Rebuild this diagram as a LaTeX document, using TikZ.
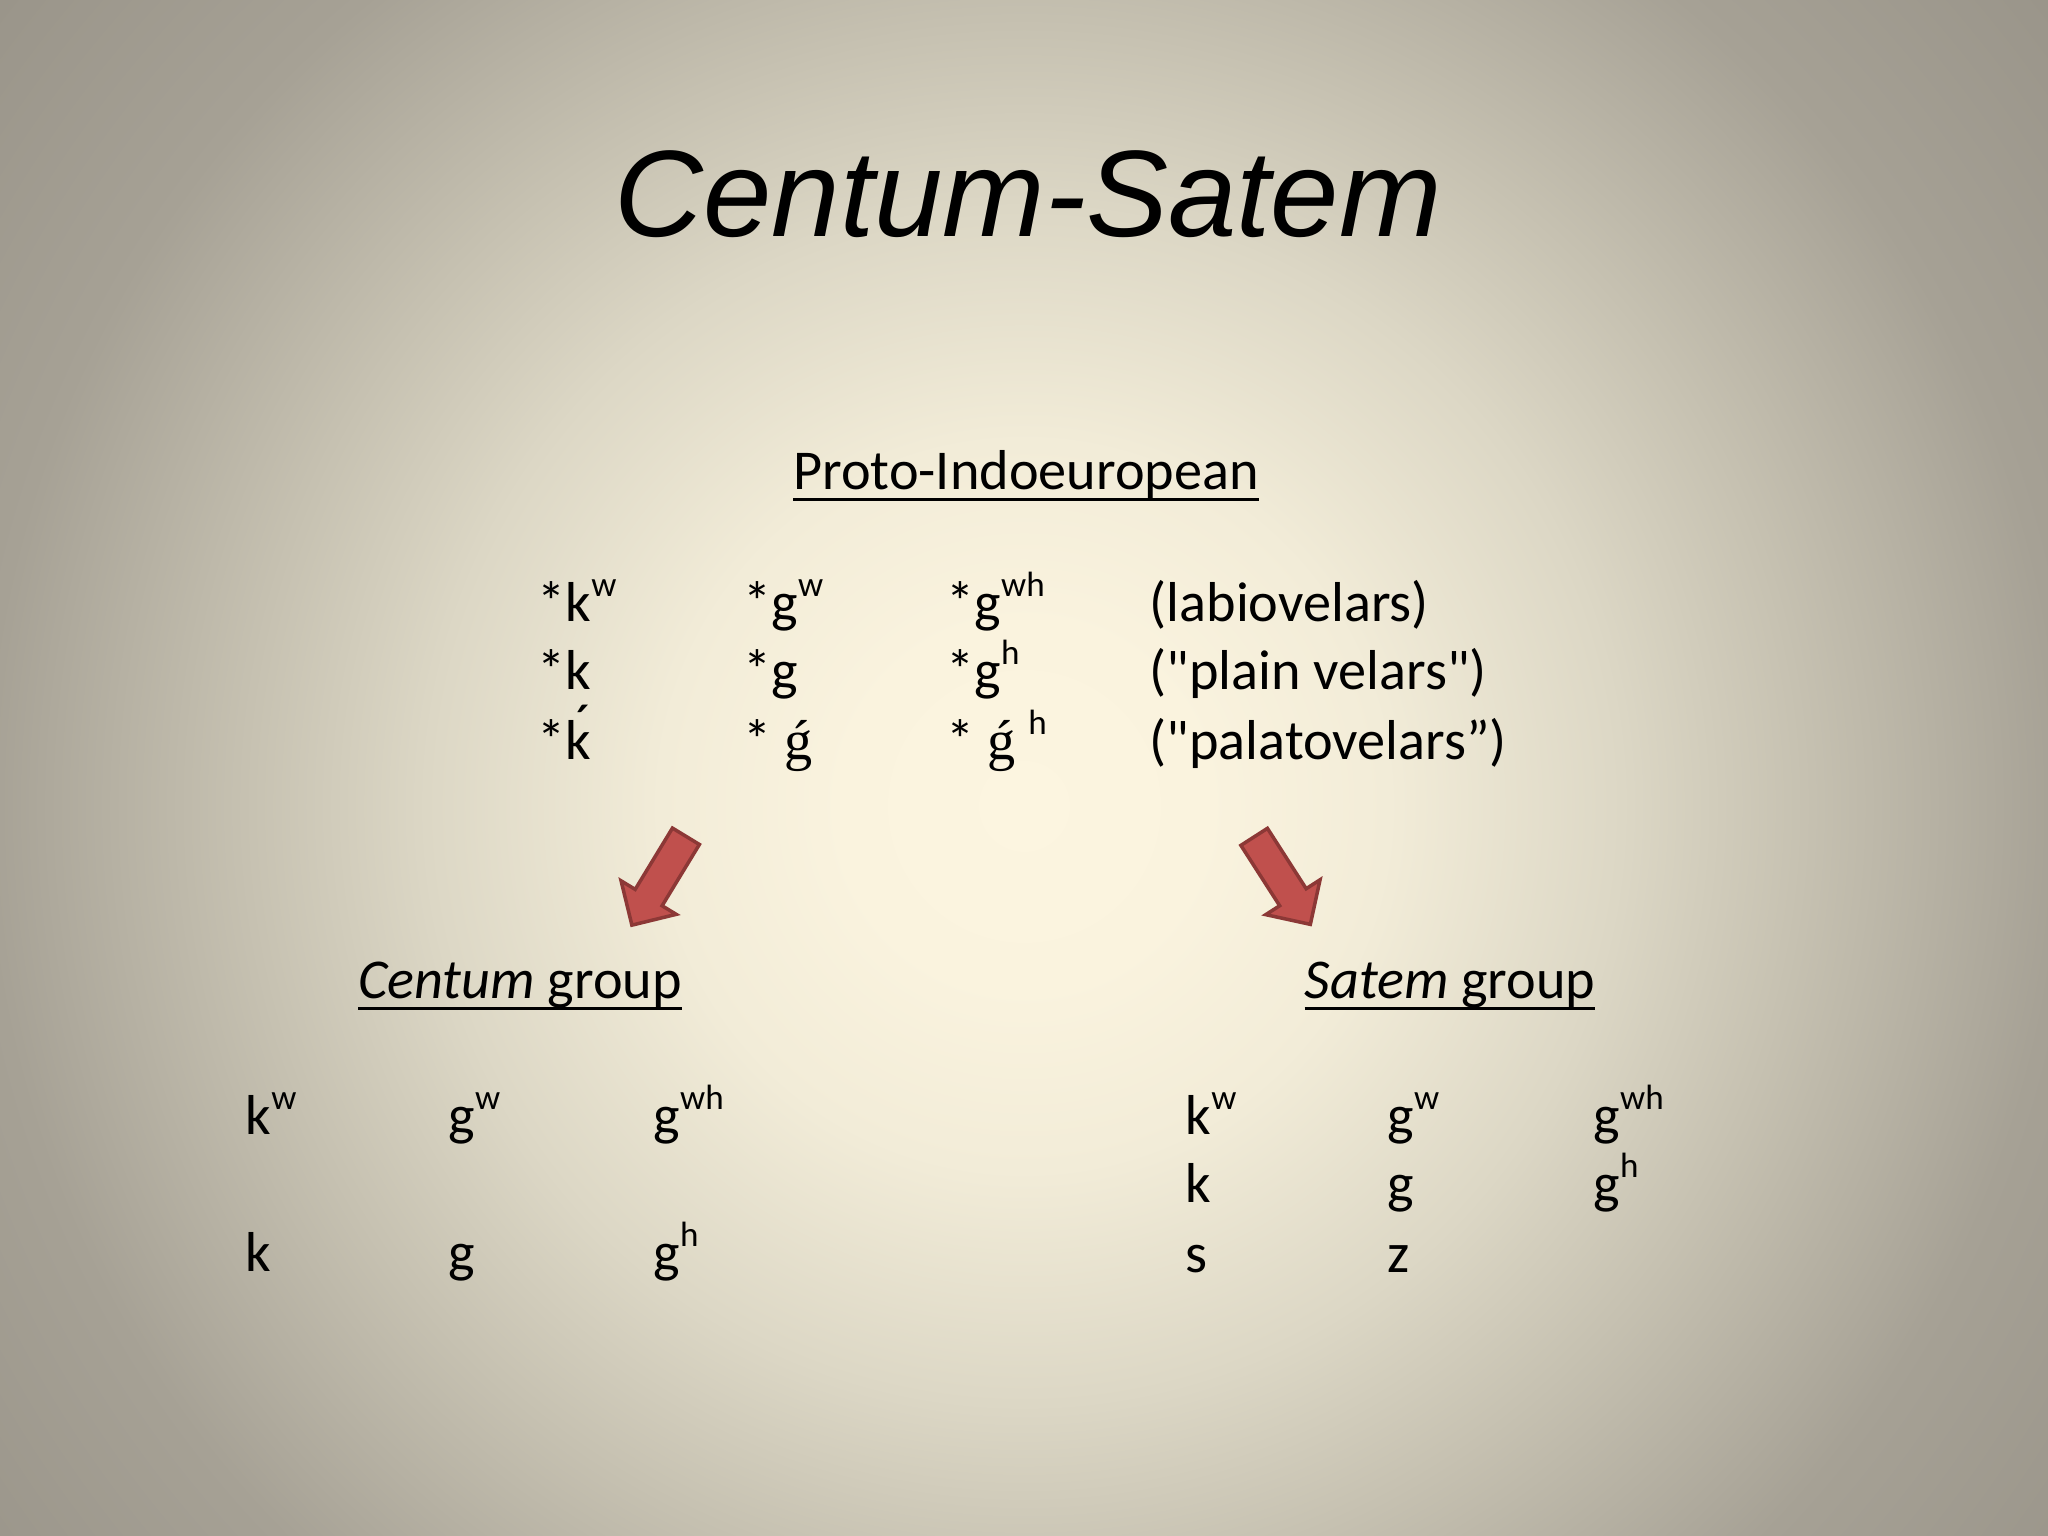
\documentclass[tikz,border=0pt]{standalone}
\usepackage{fontspec}
\setmainfont{Carlito}
\newfontfamily\titlefont{Liberation Sans}
\newfontfamily\seriffont{Liberation Serif}
\usetikzlibrary{shapes.arrows}

\definecolor{bgA}{HTML}{FCF5E0}
\definecolor{bgB}{HTML}{FAF3DE}
\definecolor{bgC}{HTML}{F2ECD8}
\definecolor{bgD}{HTML}{DCD7C5}
\definecolor{bgE}{HTML}{C6C1B1}
\definecolor{bgF}{HTML}{A6A195}
\definecolor{bgG}{HTML}{9A958A}
\definecolor{arrowfill}{HTML}{C0504D}
\definecolor{arrowline}{HTML}{8C3836}

\pgfdeclareradialshading{slidebg}{\pgfpoint{0bp}{0bp}}{%
  color(0bp)=(bgA); color(3.5bp)=(bgB); color(7bp)=(bgC); color(11.5bp)=(bgD);
  color(15bp)=(bgE); color(20bp)=(bgF); color(25bp)=(bgG); color(50bp)=(bgG)}

\newcommand{\supw}[1]{\raisebox{0.45em}{\fontsize{10}{12}\selectfont #1}}
\newcommand{\ulin}[1]{\setbox0\hbox{#1}\rlap{\rule[-3.1pt]{\wd0}{0.85pt}}\box0}
\newcommand{\gacute}{{\seriffont ǵ}}
\newcommand{\kacute}{\makebox[0pt][l]{\kern0.18em\raisebox{0.3em}{´}}k}
\newcommand{\qd}{\textquotedbl}

\begin{document}
\begin{tikzpicture}[x=1cm,y=1cm,
    every node/.style={inner sep=0pt, font=\fontsize{16}{19}\selectfont},
    cell/.style={anchor=base west},
    heading/.style={anchor=base},
    redarrow/.style={single arrow, draw=arrowline, fill=arrowfill, line width=1pt,
      inner xsep=0pt, inner ysep=0.14cm, minimum width=0pt,
      minimum height=1.04cm, single arrow head extend=0.165cm}]
\useasboundingbox (0,0) rectangle (20.48,15.36);
\begin{scope}
\clip (0,0) rectangle (20.48,15.36);
\shade[shading=slidebg] (-2.76,-5.7) rectangle (23.24,20.3);
\end{scope}

\node[heading, font=\titlefont\fontsize{35}{42}\selectfont\itshape] (title) at (10.28,12.99) {Centum-Satem};
\node[heading] (pie) at (10.26,10.46) {\ulin{Proto-Indoeuropean}};

% Proto-Indoeuropean velars
\node[cell] (kw) at (5.37,9.14) {*k\supw{w}};
\node[cell] (gw) at (7.43,9.14) {*g\supw{w}};
\node[cell] (gwh) at (9.46,9.14) {*g\supw{wh}};
\node[cell] (labio) at (11.49,9.14) {(labiovelars)};
\node[cell] (k) at (5.37,8.46) {*k};
\node[cell] (g) at (7.43,8.46) {*g};
\node[cell] (gh) at (9.46,8.46) {*g\supw{h}};
\node[cell] (plain) at (11.49,8.46) {(\qd plain velars\qd)};
\node[cell] (kpal) at (5.37,7.76) {*\kacute};
\node[cell] (gpal) at (7.43,7.76) {* \gacute};
\node[cell] (ghpal) at (9.46,7.76) {* \gacute{} \supw{h}};
\node[cell] (palato) at (11.49,7.76) {(\qd palatovelars”)};

% arrows
\node[redarrow, rotate=238.7] (tocentum) at (6.63,6.62) {};
\node[redarrow, rotate=-57.3] (tosatem) at (12.78,6.62) {};

\node[heading] (centum) at (5.20,5.37) {\ulin{\textit{Centum} group}};
\node[heading] (satem) at (14.50,5.37) {\ulin{\textit{Satem} group}};

% centum group
\node[cell] (ckw) at (2.45,4.01) {k\supw{w}};
\node[cell] (cgw) at (4.48,4.01) {g\supw{w}};
\node[cell] (cgwh) at (6.53,4.01) {g\supw{wh}};
\node[cell] (ck) at (2.45,2.64) {k};
\node[cell] (cg) at (4.48,2.64) {g};
\node[cell] (cgh) at (6.53,2.64) {g\supw{h}};

% satem group
\node[cell] (skw) at (11.85,4.01) {k\supw{w}};
\node[cell] (sgw) at (13.87,4.01) {g\supw{w}};
\node[cell] (sgwh) at (15.93,4.01) {g\supw{wh}};
\node[cell] (sk) at (11.85,3.33) {k};
\node[cell] (sg) at (13.87,3.33) {g};
\node[cell] (sgh) at (15.93,3.33) {g\supw{h}};
\node[cell] (ss) at (11.85,2.63) {s};
\node[cell] (sz) at (13.87,2.63) {z};
\end{tikzpicture}
\end{document}
